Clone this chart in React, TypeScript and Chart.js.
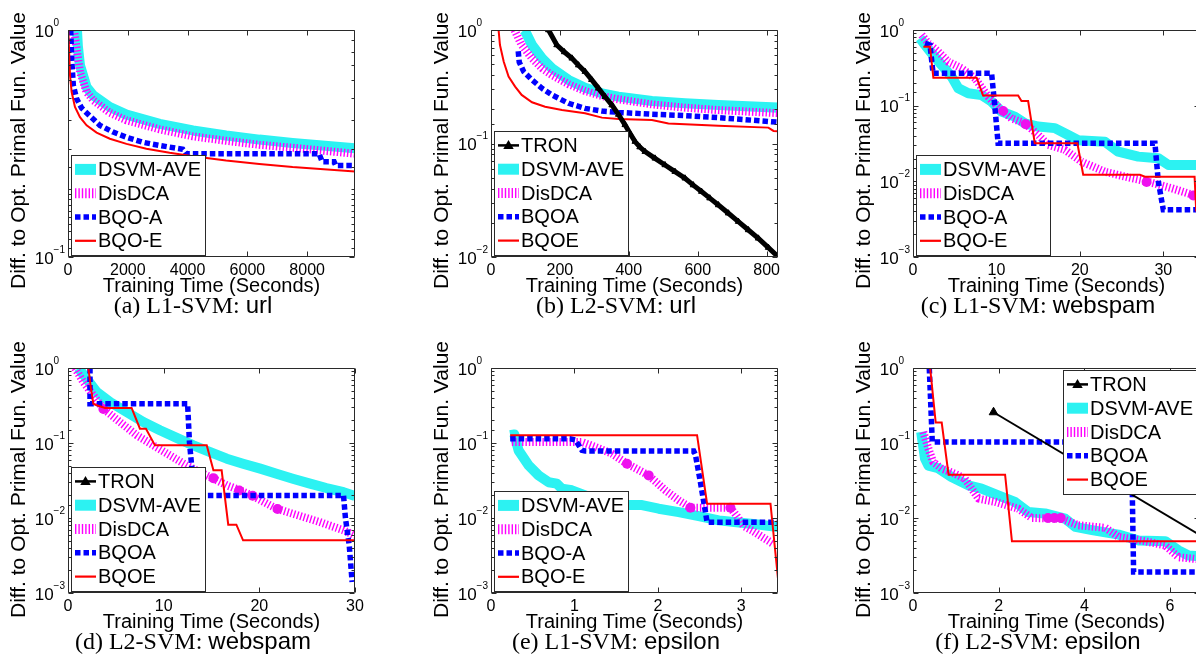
import React, { useEffect, useRef } from 'react';
import { Chart, registerables } from 'chart.js';

Chart.register(...registerables);

type Pt = [number, number];

const SANS = '"Liberation Sans", Arial, Helvetica, sans-serif';
const SERIF = '"Liberation Serif", "Times New Roman", Times, serif';

// ---------- (a) L1-SVM: url ----------
const A_DSVM: Pt[] = [[300, 1.0], [330, 0.85], [400, 0.70], [622, 0.56], [844, 0.515], [1400, 0.458], [1956, 0.424], [3067, 0.386], [4178, 0.361], [5289, 0.343], [6400, 0.329], [7511, 0.318], [9600, 0.301]];
const A_DISDCA: Pt[] = [[200, 1.0], [289, 0.83], [400, 0.654], [622, 0.533], [844, 0.49], [1400, 0.432], [1956, 0.40], [3067, 0.365], [4178, 0.34], [5289, 0.325], [6400, 0.312], [7511, 0.303], [9600, 0.285]];
const A_BQOA: Pt[] = [[90, 1.0], [122, 0.75], [178, 0.571], [289, 0.498], [456, 0.453], [733, 0.418], [1067, 0.38], [1511, 0.355], [1956, 0.337], [2511, 0.32], [3067, 0.31], [3844, 0.298], [3956, 0.285], [8400, 0.285], [8500, 0.263], [8900, 0.263], [8956, 0.253], [9600, 0.253]];
const A_BQOE: Pt[] = [[10, 1.0], [67, 0.632], [122, 0.533], [233, 0.458], [400, 0.413], [622, 0.38], [956, 0.353], [1400, 0.332], [1956, 0.315], [2622, 0.30], [3400, 0.288], [4178, 0.278], [5289, 0.266], [6400, 0.257], [7511, 0.249], [9600, 0.238]];

// ---------- (b) L2-SVM: url ----------
const B_TRON: Pt[] = [[167, 1.0], [191, 0.738], [213, 0.64], [235, 0.563], [254, 0.49], [273, 0.43], [292, 0.365], [312, 0.306], [331, 0.258], [351, 0.218], [370, 0.18], [389, 0.146], [404, 0.122], [418, 0.104], [432, 0.093], [447, 0.0848], [476, 0.074], [505, 0.0647], [534, 0.0565], [563, 0.0494], [587, 0.043], [611, 0.0377], [635, 0.033], [660, 0.0287], [689, 0.0243], [718, 0.0205], [747, 0.0173], [776, 0.0146], [805, 0.0121], [834, 0.01]];
const B_DSVM: Pt[] = [[95, 1.0], [100, 0.966], [119, 0.738], [148, 0.563], [177, 0.46], [225, 0.363], [273, 0.31], [322, 0.277], [370, 0.259], [467, 0.237], [563, 0.226], [660, 0.218], [834, 0.207]];
const B_DISDCA: Pt[] = [[68, 1.0], [89, 0.738], [119, 0.563], [148, 0.46], [177, 0.40], [225, 0.333], [273, 0.29], [322, 0.262], [370, 0.245], [467, 0.221], [563, 0.207], [660, 0.197], [834, 0.185]];
const B_BQOA: Pt[] = [[79, 0.65], [82, 0.52], [95, 0.43], [119, 0.363], [148, 0.306], [177, 0.268], [225, 0.226], [273, 0.204], [322, 0.193], [370, 0.188], [467, 0.181], [563, 0.176], [660, 0.169], [834, 0.154]];
const B_BQOE: Pt[] = [[22, 1.0], [26, 0.738], [37, 0.525], [51, 0.388], [70, 0.317], [89, 0.268], [119, 0.231], [157, 0.211], [206, 0.197], [273, 0.185], [322, 0.169], [370, 0.164], [467, 0.161], [515, 0.15], [660, 0.143], [805, 0.138], [820, 0.129], [834, 0.128]];

// ---------- (c) L1-SVM: webspam ----------
const C_DSVM: Pt[] = [[0.84, 0.777], [1.44, 0.634], [2.24, 0.492], [3.43, 0.345], [4.63, 0.242], [5.43, 0.17], [6.63, 0.146], [8.22, 0.138], [9.42, 0.113], [10.62, 0.0834], [12.2, 0.0716], [13.4, 0.0585], [15.0, 0.053], [17.0, 0.0505], [18.6, 0.041], [19.8, 0.035], [23.0, 0.0334], [24.6, 0.0247], [27.0, 0.0212], [29.4, 0.0202], [30.6, 0.0165], [34.4, 0.0165]];
const C_DISDCA: Pt[] = [[1.04, 0.86], [1.84, 0.667], [3.03, 0.517], [4.23, 0.38], [5.83, 0.312], [7.43, 0.23], [9.02, 0.131], [10.6, 0.087], [11.8, 0.068], [13.4, 0.0585], [15.0, 0.0411], [16.2, 0.0304], [18.2, 0.0261], [20.2, 0.0182], [23.0, 0.0134], [26.2, 0.011], [28.0, 0.01], [31.0, 0.0081], [33.6, 0.0066], [34.4, 0.0062]];
const C_DISDCA_MARK: Pt[] = [[10.8, 0.085], [13.5, 0.057], [28.0, 0.0098], [33.6, 0.0065]];
const C_BQOA: Pt[] = [[1.44, 0.667], [2.04, 0.634], [2.4, 0.268], [9.42, 0.268], [9.8, 0.1], [10.2, 0.0318], [29.0, 0.0318], [29.4, 0.01], [30.0, 0.0042], [34.4, 0.0042]];
const C_BQOE: Pt[] = [[1.24, 0.60], [2.04, 0.60], [2.44, 0.234], [7.63, 0.234], [8.4, 0.136], [12.6, 0.136], [13.0, 0.115], [13.8, 0.115], [14.6, 0.0318], [19.7, 0.0318], [20.4, 0.0122], [27.2, 0.0122], [27.8, 0.0115], [33.75, 0.0115], [33.95, 0.004]];

// ---------- (d) L2-SVM: webspam ----------
const D_TRON: Pt[] = [];
const D_DSVM: Pt[] = [[1.08, 1.0], [1.95, 0.72], [3.0, 0.479], [4.39, 0.352], [6.13, 0.259], [7.87, 0.19], [9.61, 0.148], [11.36, 0.117], [13.1, 0.093], [14.8, 0.0759], [16.6, 0.0618], [18.3, 0.053], [20.1, 0.0455], [21.8, 0.039], [23.5, 0.0334], [25.3, 0.0287], [27.0, 0.0251], [28.8, 0.0221], [30, 0.0197]];
const D_DISDCA: Pt[] = [[0.73, 1.0], [1.6, 0.65], [2.65, 0.432], [3.69, 0.287], [5.43, 0.19], [7.18, 0.127], [8.92, 0.093], [10.66, 0.0685], [12.4, 0.0504], [13.8, 0.0409], [15.2, 0.0334], [16.6, 0.0273], [18.0, 0.0234], [19.2, 0.02], [21.8, 0.0133], [23.5, 0.0114], [26.3, 0.00885], [28.8, 0.00686], [30, 0.00588]];
const D_DISDCA_MARK: Pt[] = [[3.7, 0.285], [15.2, 0.034], [17.9, 0.0232], [19.3, 0.0198], [21.9, 0.0132]];
const D_BQOA: Pt[] = [[2.3, 1.0], [2.3, 0.334], [12.5, 0.334], [12.7, 0.1], [13.0, 0.04], [13.3, 0.02], [28.8, 0.02], [29.0, 0.01], [29.4, 0.0043], [29.7, 0.0014]];
const D_BQOE: Pt[] = [[2.13, 1.0], [2.4, 0.53], [2.65, 0.334], [3.0, 0.318], [3.87, 0.293], [6.65, 0.293], [7.52, 0.155], [8.15, 0.155], [9.09, 0.093], [14.5, 0.093], [15.2, 0.0432], [16.06, 0.0432], [16.75, 0.00815], [17.6, 0.00815], [18.3, 0.00504], [30, 0.00504]];

// ---------- (e) L1-SVM: epsilon ----------
const E_DSVM: Pt[] = [[0.23, 0.127], [0.28, 0.13], [0.33, 0.0798], [0.45, 0.0504], [0.57, 0.037], [0.69, 0.030], [0.79, 0.0287], [0.85, 0.0246], [0.97, 0.0234], [1.13, 0.020], [1.29, 0.0172], [1.45, 0.0156], [1.61, 0.0149], [1.81, 0.0149], [2.01, 0.0133], [2.25, 0.012], [2.49, 0.0106], [2.73, 0.0093], [2.97, 0.0087], [3.2, 0.0082], [3.44, 0.0076]];
const E_DISDCA: Pt[] = [[0.25, 0.103], [1.09, 0.103], [1.25, 0.0885], [1.45, 0.072], [1.63, 0.053], [1.89, 0.037], [2.09, 0.0234], [2.25, 0.0172], [2.39, 0.0137], [2.87, 0.0137], [2.95, 0.0105], [3.03, 0.0078], [3.13, 0.0068], [3.37, 0.0046]];
const E_DISDCA_MARK: Pt[] = [[1.63, 0.053], [1.89, 0.037], [2.39, 0.0137], [2.87, 0.0137]];
const E_BQOA: Pt[] = [[0.23, 0.114], [0.95, 0.114], [1.01, 0.11], [1.09, 0.08], [1.13, 0.078], [2.43, 0.078], [2.45, 0.07], [2.51, 0.030], [2.57, 0.012], [2.59, 0.0088], [3.44, 0.0088]];
const E_BQOE: Pt[] = [[0.23, 0.127], [2.47, 0.127], [2.59, 0.0155], [3.35, 0.0155], [3.44, 0.00155]];

// ---------- (f) L2-SVM: epsilon ----------
const F_TRON: Pt[] = [[1.88, 0.257], [7.2, 0.004]];
const F_DSVM: Pt[] = [[0.19, 0.14], [0.28, 0.062], [0.36, 0.05], [0.59, 0.046], [0.9, 0.0352], [1.29, 0.0273], [1.6, 0.0246], [1.99, 0.02], [2.38, 0.0164], [2.69, 0.012], [3.08, 0.0115], [3.55, 0.0098], [3.79, 0.0076], [4.18, 0.0069], [4.8, 0.006], [5.27, 0.005], [5.89, 0.0049], [6.2, 0.0037], [6.43, 0.00316], [6.7, 0.0031]];
const F_DISDCA: Pt[] = [[0.24, 0.14], [0.36, 0.084], [0.47, 0.0558], [0.67, 0.0455], [0.98, 0.039], [1.21, 0.0334], [1.53, 0.0181], [1.92, 0.0164], [2.46, 0.0133], [2.77, 0.01], [3.47, 0.0098], [3.86, 0.008], [4.49, 0.0074], [4.8, 0.0056], [5.42, 0.0049], [5.89, 0.0043], [6.2, 0.003], [6.7, 0.0028]];
const F_DISDCA_MARK: Pt[] = [[3.15, 0.01], [3.3, 0.01], [3.45, 0.01]];
const F_BQOA: Pt[] = [[0.38, 1.0], [0.45, 0.103], [5.1, 0.103], [5.15, 0.0019], [6.7, 0.0019]];
const F_BQOE: Pt[] = [[0.40, 1.0], [0.53, 0.187], [0.67, 0.187], [0.83, 0.0378], [2.15, 0.0378], [2.31, 0.00489], [6.7, 0.00489]];

// ---------- axis settings ----------
const X_MAX = [9600, 833, 34.4, 30, 3.44, 6.7];
const X_TICKS = [
  [0, 2000, 4000, 6000, 8000],
  [0, 200, 400, 600, 800],
  [0, 10, 20, 30],
  [0, 10, 20, 30],
  [0, 1, 2, 3],
  [0, 2, 4, 6],
];
const Y_MIN = [0.1, 0.01, 0.001, 0.001, 0.001, 0.001];
const LABELS_4 = ['DSVM-AVE', 'DisDCA', 'BQO-A', 'BQO-E'];
const LABELS_5 = ['TRON', 'DSVM-AVE', 'DisDCA', 'BQOA', 'BQOE'];
const CAPTION_SERIF = ['(a) L1-SVM: ', '(b) L2-SVM: ', '(c) L1-SVM: ', '(d) L2-SVM: ', '(e) L1-SVM: ', '(f) L2-SVM: '];
const CAPTION_SANS = ['url', 'url', 'webspam', 'webspam', 'epsilon', 'epsilon'];
const X_TITLE = 'Training Time (Seconds)';
const Y_TITLE = 'Diff. to Opt. Primal Fun. Value';

// ---------- layout ----------
const PLOT_LEFT = [68, 491, 913];
const PLOT_W = 287;
const ROW_CANVAS_TOP = [0, 338];
const PLOT_H = [227, 225];
const PAD_TOP = 30;
const Y_AXIS_W = 68;
const X_AXIS_H = 42;
const PAD_RIGHT = 14;
const Y_TITLE_GAP = 49;
const Y_TITLE_SHIFT = [7, -1];

type Key = 'TRON' | 'DSVM' | 'DisDCA' | 'BQOA' | 'BQOE';
const STYLES: Record<Key, any> = {
  TRON: { color: '#000000', width: 2, order: 0, legendWidth: 2.5 },
  DSVM: { color: '#2CF2F2', width: 10, order: 5, join: 'round', legendWidth: 11 },
  DisDCA: { color: '#FF00FF', width: 8, dash: [1.4, 2], order: 4, join: 'round', legendWidth: 10 },
  BQOA: { color: '#0000FF', width: 5.5, dash: [5.5, 3], order: 2, legendWidth: 5.5 },
  BQOE: { color: '#FF0000', width: 2, order: 1, legendWidth: 2.2 },
};

interface Series { key: Key; data: Pt[] }
interface PanelSpec {
  idx: number; col: number; row: number;
  series: Series[]; labels: string[]; markers: Pt[];
  legendCorner: 'bl' | 'tr';
  tron?: { width: number; radius: number };
}

const PANELS: PanelSpec[] = [
  { idx: 0, col: 0, row: 0, labels: LABELS_4, legendCorner: 'bl', markers: [],
    series: [{ key: 'DSVM', data: A_DSVM }, { key: 'DisDCA', data: A_DISDCA }, { key: 'BQOA', data: A_BQOA }, { key: 'BQOE', data: A_BQOE }] },
  { idx: 1, col: 1, row: 0, labels: LABELS_5, legendCorner: 'bl', markers: [], tron: { width: 5, radius: 3.5 },
    series: [{ key: 'TRON', data: B_TRON }, { key: 'DSVM', data: B_DSVM }, { key: 'DisDCA', data: B_DISDCA }, { key: 'BQOA', data: B_BQOA }, { key: 'BQOE', data: B_BQOE }] },
  { idx: 2, col: 2, row: 0, labels: LABELS_4, legendCorner: 'bl', markers: C_DISDCA_MARK,
    series: [{ key: 'DSVM', data: C_DSVM }, { key: 'DisDCA', data: C_DISDCA }, { key: 'BQOA', data: C_BQOA }, { key: 'BQOE', data: C_BQOE }] },
  { idx: 3, col: 0, row: 1, labels: LABELS_5, legendCorner: 'bl', markers: D_DISDCA_MARK, tron: { width: 2, radius: 5 },
    series: [{ key: 'TRON', data: D_TRON }, { key: 'DSVM', data: D_DSVM }, { key: 'DisDCA', data: D_DISDCA }, { key: 'BQOA', data: D_BQOA }, { key: 'BQOE', data: D_BQOE }] },
  { idx: 4, col: 1, row: 1, labels: LABELS_4, legendCorner: 'bl', markers: E_DISDCA_MARK,
    series: [{ key: 'DSVM', data: E_DSVM }, { key: 'DisDCA', data: E_DISDCA }, { key: 'BQOA', data: E_BQOA }, { key: 'BQOE', data: E_BQOE }] },
  { idx: 5, col: 2, row: 1, labels: LABELS_5, legendCorner: 'tr', markers: F_DISDCA_MARK, tron: { width: 2, radius: 5 },
    series: [{ key: 'TRON', data: F_TRON }, { key: 'DSVM', data: F_DSVM }, { key: 'DisDCA', data: F_DISDCA }, { key: 'BQOA', data: F_BQOA }, { key: 'BQOE', data: F_BQOE }] },
];

const isDecade = (v: number) => v > 0 && Math.abs(Math.log10(v) - Math.round(Math.log10(v))) < 1e-6;

function drawTriangle(ctx: CanvasRenderingContext2D, cx: number, cy: number, r: number) {
  ctx.beginPath();
  ctx.moveTo(cx, cy - r);
  ctx.lineTo(cx - r * 0.95, cy + r * 0.65);
  ctx.lineTo(cx + r * 0.95, cy + r * 0.65);
  ctx.closePath();
  ctx.fill();
}

const axesPlugin = {
  id: 'matlabAxes',
  afterDatasetsDraw(chart: any) {
    const opts = chart.options.plugins.matlabAxes || {};
    const { ctx, chartArea: ca, scales } = chart;
    const x = scales.x;
    const y = scales.y;
    ctx.save();
    ctx.strokeStyle = '#2a2a2a';
    ctx.lineWidth = 1;
    const L = Math.round(ca.left) + 0.5;
    const T = Math.round(ca.top) + 0.5;
    const R = Math.round(ca.right) - 0.5;
    const B = Math.round(ca.bottom) - 0.5;
    ctx.beginPath();
    ctx.rect(L, T, R - L, B - T);
    ctx.stroke();
    ctx.beginPath();
    x.ticks.forEach((t: any) => {
      const px = Math.round(x.getPixelForValue(t.value)) + 0.5;
      ctx.moveTo(px, B); ctx.lineTo(px, B - 5);
      ctx.moveTo(px, T); ctx.lineTo(px, T + 5);
    });
    y.ticks.forEach((t: any) => {
      const py = Math.round(y.getPixelForValue(t.value)) + 0.5;
      const len = isDecade(t.value) ? 5 : 3;
      ctx.moveTo(L, py); ctx.lineTo(L + len, py);
      ctx.moveTo(R, py); ctx.lineTo(R - len, py);
    });
    ctx.stroke();

    // y tick labels: 10 with superscript exponent
    const decades = y.ticks.map((t: any) => t.value).filter(isDecade);
    ctx.fillStyle = '#000';
    ctx.textBaseline = 'middle';
    ctx.textAlign = 'left';
    ctx.font = `17px ${SANS}`;
    const w10 = ctx.measureText('10').width;
    ctx.font = `10px ${SANS}`;
    const items = decades.map((v: number) => {
      const e = Math.round(Math.log10(v));
      const s = e < 0 ? '\u2212' + String(-e) : String(e);
      return { v, s, w: ctx.measureText(s).width };
    });
    const maxW = Math.max(...items.map((it: any) => w10 + it.w));
    const sx = ca.left - 3 - maxW;
    items.forEach((it: any) => {
      const py = y.getPixelForValue(it.v);
      ctx.font = `17px ${SANS}`;
      ctx.fillText('10', sx, py + 2);
      ctx.font = `10px ${SANS}`;
      ctx.fillText(it.s, sx + w10, py - 7);
    });

    // y axis title
    ctx.save();
    ctx.translate(ca.left - Y_TITLE_GAP, (ca.top + ca.bottom) / 2 + (opts.titleShift || 0));
    ctx.rotate(-Math.PI / 2);
    ctx.font = `21px ${SANS}`;
    ctx.textAlign = 'center';
    ctx.textBaseline = 'middle';
    ctx.fillText(Y_TITLE, 0, 0);
    ctx.restore();
    ctx.restore();
  },
  afterDraw(chart: any) {
    const opts = chart.options.plugins.matlabAxes || {};
    const { ctx, chartArea: ca } = chart;
    const items = chart.data.datasets
      .filter((d: any) => d.legendRank >= 0)
      .sort((a: any, b: any) => a.legendRank - b.legendRank);
    ctx.save();
    ctx.font = `20px ${SANS}`;
    const textW = Math.max(...items.map((d: any) => ctx.measureText(d.label).width));
    const rowH = 23.8;
    const w = Math.round(27 + textW + 4);
    const h = Math.round(items.length * rowH + 5);
    let left: number;
    let top: number;
    if (opts.corner === 'tr') {
      left = Math.round(ca.right - 3 - w);
      top = Math.round(ca.top + 2);
    } else {
      left = Math.round(ca.left + 3);
      top = Math.round(ca.bottom - 2 - h);
    }
    ctx.fillStyle = '#ffffff';
    ctx.fillRect(left, top, w, h);
    ctx.strokeStyle = '#2a2a2a';
    ctx.lineWidth = 1;
    ctx.strokeRect(left + 0.5, top + 0.5, w, h);
    items.forEach((d: any, i: number) => {
      const st = STYLES[d.styleKey as Key];
      const cy = top + 2.5 + rowH * (i + 0.5);
      ctx.save();
      ctx.strokeStyle = st.color;
      ctx.lineWidth = st.legendWidth;
      ctx.setLineDash(st.dash || []);
      ctx.lineCap = 'butt';
      ctx.beginPath();
      ctx.moveTo(left + 4, cy);
      ctx.lineTo(left + 25, cy);
      ctx.stroke();
      if (d.styleKey === 'TRON') {
        ctx.fillStyle = '#000';
        drawTriangle(ctx, left + 14.5, cy, 5.5);
      }
      ctx.restore();
      ctx.fillStyle = '#000';
      ctx.textBaseline = 'middle';
      ctx.textAlign = 'left';
      ctx.fillText(d.label, left + 27, cy + 1);
    });
    ctx.restore();
  },
};

function buildDatasets(p: PanelSpec) {
  const ds: any[] = p.series.map((s, i) => {
    const st = STYLES[s.key];
    const d: any = {
      label: p.labels[i],
      data: s.data.map(([x, y]) => ({ x, y })),
      borderColor: st.color,
      backgroundColor: st.color,
      borderWidth: st.width,
      borderDash: st.dash || [],
      borderJoinStyle: st.join || 'miter',
      borderCapStyle: 'butt',
      pointRadius: 0,
      pointHoverRadius: 0,
      tension: 0,
      fill: false,
      order: st.order,
      legendRank: i,
      styleKey: s.key,
    };
    if (s.key === 'TRON' && p.tron) {
      d.borderWidth = p.tron.width;
      d.pointStyle = 'triangle';
      d.pointRadius = p.tron.radius;
      d.pointBackgroundColor = '#000000';
      d.pointBorderColor = '#000000';
      d.pointBorderWidth = 1;
    }
    return d;
  });
  if (p.markers.length) {
    ds.push({
      label: 'DisDCA markers',
      data: p.markers.map(([x, y]) => ({ x, y })),
      showLine: false,
      pointRadius: 5,
      pointHoverRadius: 5,
      pointBackgroundColor: '#EE11EE',
      pointBorderColor: '#EE11EE',
      pointBorderWidth: 0,
      order: 3,
      legendRank: -1,
    });
  }
  return ds;
}

function Panel({ p }: { p: PanelSpec }) {
  const ref = useRef<HTMLCanvasElement | null>(null);
  const width = Y_AXIS_W + PLOT_W + PAD_RIGHT;
  const height = PAD_TOP + PLOT_H[p.row] + X_AXIS_H;
  const left = PLOT_LEFT[p.col] - Y_AXIS_W;
  const top = ROW_CANVAS_TOP[p.row];

  useEffect(() => {
    if (!ref.current) return;
    const chart = new Chart(ref.current, {
      type: 'line',
      data: { datasets: buildDatasets(p) },
      plugins: [axesPlugin],
      options: {
        responsive: false,
        animation: false,
        events: [],
        layout: { padding: { top: PAD_TOP, right: PAD_RIGHT, bottom: 0, left: 0 } },
        plugins: {
          legend: { display: false },
          tooltip: { enabled: false },
          title: { display: false },
          matlabAxes: { corner: p.legendCorner, titleShift: Y_TITLE_SHIFT[p.row] },
        } as any,
        scales: {
          x: {
            type: 'linear',
            min: 0,
            max: X_MAX[p.idx],
            grid: { display: false, drawTicks: false },
            border: { display: false },
            afterBuildTicks: (s: any) => {
              s.ticks = X_TICKS[p.idx].map((v) => ({ value: v }));
            },
            ticks: {
              autoSkip: false,
              maxRotation: 0,
              padding: 4,
              color: '#000',
              font: { family: SANS, size: 16 },
              callback: (v: any) => String(v),
            },
            title: {
              display: true,
              text: X_TITLE,
              color: '#000',
              font: { family: SANS, size: 20 },
              padding: { top: 0, bottom: 1 },
            },
            afterFit: (s: any) => {
              s.height = X_AXIS_H;
              s.paddingLeft = 0;
              s.paddingRight = 0;
            },
          },
          y: {
            type: 'logarithmic',
            min: Y_MIN[p.idx],
            max: 1,
            grid: { display: false, drawTicks: false },
            border: { display: false },
            ticks: { display: false },
            title: { display: false },
            afterFit: (s: any) => {
              s.width = Y_AXIS_W;
              s.paddingTop = 0;
              s.paddingBottom = 0;
            },
          },
        },
      } as any,
    });
    return () => chart.destroy();
  }, []);

  return (
    <canvas
      ref={ref}
      width={width}
      height={height}
      style={{ position: 'absolute', left, top, width, height }}
    />
  );
}

function Caption({ p }: { p: PanelSpec }) {
  const cx = PLOT_LEFT[p.col] + 125;
  const cy = ROW_CANVAS_TOP[p.row] + PAD_TOP + PLOT_H[p.row] + 48;
  return (
    <div
      style={{
        position: 'absolute',
        left: cx - 200,
        top: cy - 14,
        width: 400,
        height: 28,
        lineHeight: '28px',
        textAlign: 'center',
        fontFamily: SERIF,
        fontSize: 24,
        color: '#000',
        whiteSpace: 'nowrap',
      }}
    >
      {CAPTION_SERIF[p.idx]}
      <span style={{ fontFamily: SANS }}>{CAPTION_SANS[p.idx]}</span>
    </div>
  );
}

export default function App() {
  return (
    <div
      style={{
        position: 'fixed',
        left: 0,
        top: 0,
        width: 1196,
        height: 660,
        overflow: 'hidden',
        background: '#ffffff',
      }}
    >
      {PANELS.map((p) => (
        <Panel key={'c' + p.idx} p={p} />
      ))}
      {PANELS.map((p) => (
        <Caption key={'t' + p.idx} p={p} />
      ))}
    </div>
  );
}
